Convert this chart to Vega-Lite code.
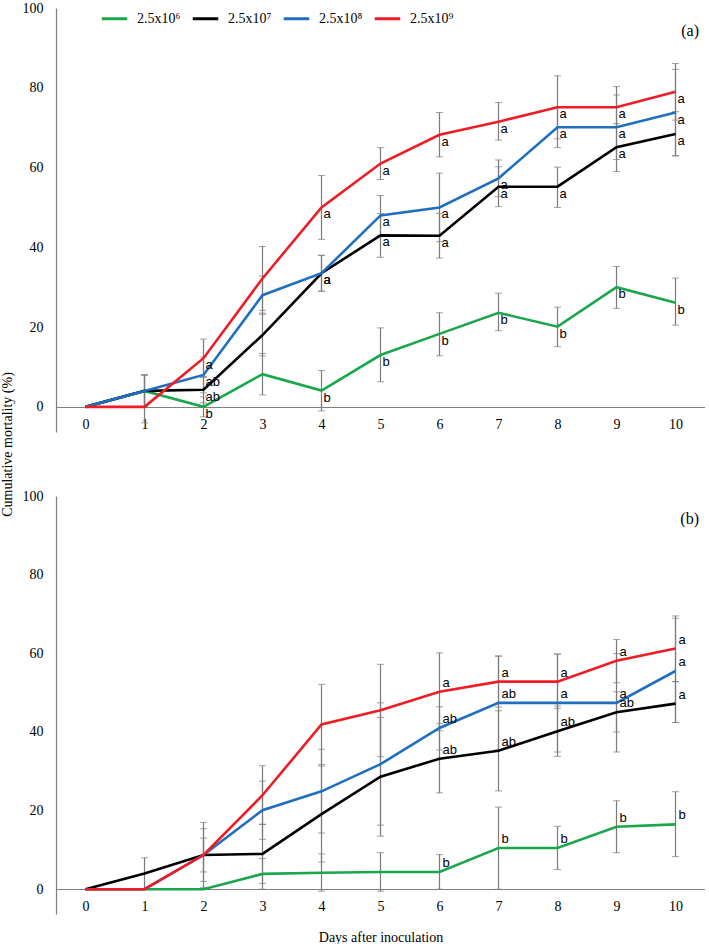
{
  "$schema": "https://vega.github.io/schema/vega-lite/v6.json",
  "autosize": {"type": "pad"},
  "padding": {"left": 0, "top": 1, "right": 0, "bottom": 0},
  "background": "white",
  "spacing": 64,
  "bounds": "flush",
  "config": {
    "view": {"stroke": null},
    "axis": {"grid": false, "ticks": false, "domainColor": "#808080", "domainWidth": 1.2, "labelFont": "Liberation Serif", "labelFontSize": 14, "labelColor": "#000", "titleFont": "Liberation Serif", "titleFontSize": 14, "titleFontWeight": "normal", "titleColor": "#000"},
    "title": {"font": "Liberation Serif", "fontSize": 16, "fontWeight": "normal", "color": "#000", "anchor": "end", "frame": "group", "orient": "top", "offset": -38, "dx": -6}
  },
  "datasets": {
    "mort": [
      {"panel": "a", "day": 0, "dose": "2.5x10⁶", "v": 0, "lo": null, "hi": null, "letter": ""},
      {"panel": "a", "day": 0, "dose": "2.5x10⁷", "v": 0, "lo": null, "hi": null, "letter": ""},
      {"panel": "a", "day": 0, "dose": "2.5x10⁸", "v": 0, "lo": null, "hi": null, "letter": ""},
      {"panel": "a", "day": 0, "dose": "2.5x10⁹", "v": 0, "lo": null, "hi": null, "letter": ""},
      {"panel": "a", "day": 1, "dose": "2.5x10⁶", "v": 4, "lo": 0, "hi": 8, "letter": ""},
      {"panel": "a", "day": 1, "dose": "2.5x10⁷", "v": 4, "lo": 0, "hi": 8, "letter": ""},
      {"panel": "a", "day": 1, "dose": "2.5x10⁸", "v": 4, "lo": 0, "hi": 8, "letter": ""},
      {"panel": "a", "day": 1, "dose": "2.5x10⁹", "v": 0, "lo": -4, "hi": 4, "letter": ""},
      {"panel": "a", "day": 2, "dose": "2.5x10⁶", "v": 0, "lo": -2.5, "hi": 2.5, "letter": "b"},
      {"panel": "a", "day": 2, "dose": "2.5x10⁷", "v": 4.3, "lo": 1, "hi": 7.6, "letter": "ab"},
      {"panel": "a", "day": 2, "dose": "2.5x10⁸", "v": 8, "lo": 3.5, "hi": 12.5, "letter": "ab"},
      {"panel": "a", "day": 2, "dose": "2.5x10⁹", "v": 12.2, "lo": 7.4, "hi": 17, "letter": "a"},
      {"panel": "a", "day": 3, "dose": "2.5x10⁶", "v": 8.2, "lo": 3, "hi": 13.4, "letter": ""},
      {"panel": "a", "day": 3, "dose": "2.5x10⁷", "v": 18, "lo": 12.8, "hi": 23.5, "letter": ""},
      {"panel": "a", "day": 3, "dose": "2.5x10⁸", "v": 28, "lo": 23.2, "hi": 32.8, "letter": ""},
      {"panel": "a", "day": 3, "dose": "2.5x10⁹", "v": 32.2, "lo": 24.2, "hi": 40.2, "letter": ""},
      {"panel": "a", "day": 4, "dose": "2.5x10⁶", "v": 4.1, "lo": -1, "hi": 9.1, "letter": "b"},
      {"panel": "a", "day": 4, "dose": "2.5x10⁷", "v": 33.5, "lo": 29, "hi": 38, "letter": "a"},
      {"panel": "a", "day": 4, "dose": "2.5x10⁸", "v": 33.5, "lo": 29, "hi": 38, "letter": "a"},
      {"panel": "a", "day": 4, "dose": "2.5x10⁹", "v": 50, "lo": 42, "hi": 58, "letter": "a"},
      {"panel": "a", "day": 5, "dose": "2.5x10⁶", "v": 13, "lo": 6.3, "hi": 19.8, "letter": "b"},
      {"panel": "a", "day": 5, "dose": "2.5x10⁷", "v": 43, "lo": 37.5, "hi": 48.5, "letter": "a"},
      {"panel": "a", "day": 5, "dose": "2.5x10⁸", "v": 48, "lo": 43, "hi": 53, "letter": "a"},
      {"panel": "a", "day": 5, "dose": "2.5x10⁹", "v": 61, "lo": 57, "hi": 65, "letter": "a"},
      {"panel": "a", "day": 6, "dose": "2.5x10⁶", "v": 18.3, "lo": 12.8, "hi": 23.6, "letter": "b"},
      {"panel": "a", "day": 6, "dose": "2.5x10⁷", "v": 42.9, "lo": 37.3, "hi": 48.5, "letter": "a"},
      {"panel": "a", "day": 6, "dose": "2.5x10⁸", "v": 50, "lo": 41.4, "hi": 58.6, "letter": "a"},
      {"panel": "a", "day": 6, "dose": "2.5x10⁹", "v": 68.2, "lo": 62.7, "hi": 73.8, "letter": "a"},
      {"panel": "a", "day": 7, "dose": "2.5x10⁶", "v": 23.6, "lo": 19.1, "hi": 28.5, "letter": "b"},
      {"panel": "a", "day": 7, "dose": "2.5x10⁷", "v": 55.2, "lo": 50.2, "hi": 60.2, "letter": "a"},
      {"panel": "a", "day": 7, "dose": "2.5x10⁸", "v": 57.3, "lo": 52.7, "hi": 61.9, "letter": "a"},
      {"panel": "a", "day": 7, "dose": "2.5x10⁹", "v": 71.5, "lo": 66.9, "hi": 76.3, "letter": "a"},
      {"panel": "a", "day": 8, "dose": "2.5x10⁶", "v": 20.1, "lo": 15.1, "hi": 25, "letter": "b"},
      {"panel": "a", "day": 8, "dose": "2.5x10⁷", "v": 55.2, "lo": 50, "hi": 60.1, "letter": "a"},
      {"panel": "a", "day": 8, "dose": "2.5x10⁸", "v": 70.1, "lo": 65, "hi": 75.2, "letter": "a"},
      {"panel": "a", "day": 8, "dose": "2.5x10⁹", "v": 75.1, "lo": 67.2, "hi": 83, "letter": "a"},
      {"panel": "a", "day": 9, "dose": "2.5x10⁶", "v": 30, "lo": 24.7, "hi": 35.2, "letter": "b"},
      {"panel": "a", "day": 9, "dose": "2.5x10⁷", "v": 65.1, "lo": 59, "hi": 71, "letter": "a"},
      {"panel": "a", "day": 9, "dose": "2.5x10⁸", "v": 70.1, "lo": 62, "hi": 78.2, "letter": "a"},
      {"panel": "a", "day": 9, "dose": "2.5x10⁹", "v": 75.1, "lo": 70.2, "hi": 80.3, "letter": "a"},
      {"panel": "a", "day": 10, "dose": "2.5x10⁶", "v": 26.1, "lo": 20.5, "hi": 32.3, "letter": "b"},
      {"panel": "a", "day": 10, "dose": "2.5x10⁷", "v": 68.4, "lo": 62.9, "hi": 74, "letter": "a"},
      {"panel": "a", "day": 10, "dose": "2.5x10⁸", "v": 73.8, "lo": 63, "hi": 84.6, "letter": "a"},
      {"panel": "a", "day": 10, "dose": "2.5x10⁹", "v": 79, "lo": 71.9, "hi": 86.1, "letter": "a"},
      {"panel": "b", "day": 0, "dose": "2.5x10⁶", "v": 0, "lo": null, "hi": null, "letter": ""},
      {"panel": "b", "day": 0, "dose": "2.5x10⁷", "v": 0, "lo": null, "hi": null, "letter": ""},
      {"panel": "b", "day": 0, "dose": "2.5x10⁸", "v": 0, "lo": null, "hi": null, "letter": ""},
      {"panel": "b", "day": 0, "dose": "2.5x10⁹", "v": 0, "lo": null, "hi": null, "letter": ""},
      {"panel": "b", "day": 1, "dose": "2.5x10⁶", "v": 0, "lo": null, "hi": null, "letter": ""},
      {"panel": "b", "day": 1, "dose": "2.5x10⁷", "v": 4, "lo": 0, "hi": 8, "letter": ""},
      {"panel": "b", "day": 1, "dose": "2.5x10⁸", "v": 0, "lo": null, "hi": null, "letter": ""},
      {"panel": "b", "day": 1, "dose": "2.5x10⁹", "v": 0, "lo": null, "hi": null, "letter": ""},
      {"panel": "b", "day": 2, "dose": "2.5x10⁶", "v": 0, "lo": null, "hi": null, "letter": ""},
      {"panel": "b", "day": 2, "dose": "2.5x10⁷", "v": 8.7, "lo": 2, "hi": 15.4, "letter": ""},
      {"panel": "b", "day": 2, "dose": "2.5x10⁸", "v": 8.7, "lo": 4.4, "hi": 13, "letter": ""},
      {"panel": "b", "day": 2, "dose": "2.5x10⁹", "v": 8.7, "lo": 0.4, "hi": 17, "letter": ""},
      {"panel": "b", "day": 3, "dose": "2.5x10⁶", "v": 3.9, "lo": 0, "hi": 7.8, "letter": ""},
      {"panel": "b", "day": 3, "dose": "2.5x10⁷", "v": 9, "lo": 1.5, "hi": 16.5, "letter": ""},
      {"panel": "b", "day": 3, "dose": "2.5x10⁸", "v": 20.1, "lo": 12.7, "hi": 27.5, "letter": ""},
      {"panel": "b", "day": 3, "dose": "2.5x10⁹", "v": 23.9, "lo": 16.5, "hi": 31.4, "letter": ""},
      {"panel": "b", "day": 4, "dose": "2.5x10⁶", "v": 4.2, "lo": -0.5, "hi": 9, "letter": ""},
      {"panel": "b", "day": 4, "dose": "2.5x10⁷", "v": 19.1, "lo": 6.9, "hi": 31.3, "letter": ""},
      {"panel": "b", "day": 4, "dose": "2.5x10⁸", "v": 24.9, "lo": 14.3, "hi": 35.6, "letter": ""},
      {"panel": "b", "day": 4, "dose": "2.5x10⁹", "v": 41.9, "lo": 31.7, "hi": 52.1, "letter": ""},
      {"panel": "b", "day": 5, "dose": "2.5x10⁶", "v": 4.4, "lo": -0.5, "hi": 9.3, "letter": ""},
      {"panel": "b", "day": 5, "dose": "2.5x10⁷", "v": 28.6, "lo": 13.5, "hi": 43.7, "letter": ""},
      {"panel": "b", "day": 5, "dose": "2.5x10⁸", "v": 31.8, "lo": 16.3, "hi": 47.4, "letter": ""},
      {"panel": "b", "day": 5, "dose": "2.5x10⁹", "v": 45.5, "lo": 33.7, "hi": 57.2, "letter": ""},
      {"panel": "b", "day": 6, "dose": "2.5x10⁶", "v": 4.4, "lo": 0, "hi": 8.8, "letter": "b"},
      {"panel": "b", "day": 6, "dose": "2.5x10⁷", "v": 33.2, "lo": 24.5, "hi": 42.2, "letter": "ab"},
      {"panel": "b", "day": 6, "dose": "2.5x10⁸", "v": 41, "lo": 35.4, "hi": 46.4, "letter": "ab"},
      {"panel": "b", "day": 6, "dose": "2.5x10⁹", "v": 50.2, "lo": 40.3, "hi": 60.1, "letter": "a"},
      {"panel": "b", "day": 7, "dose": "2.5x10⁶", "v": 10.5, "lo": 0, "hi": 20.9, "letter": "b"},
      {"panel": "b", "day": 7, "dose": "2.5x10⁷", "v": 35.2, "lo": 25, "hi": 45.4, "letter": "ab"},
      {"panel": "b", "day": 7, "dose": "2.5x10⁸", "v": 47.4, "lo": 35.5, "hi": 59.3, "letter": "ab"},
      {"panel": "b", "day": 7, "dose": "2.5x10⁹", "v": 52.8, "lo": 46.3, "hi": 59.3, "letter": "a"},
      {"panel": "b", "day": 8, "dose": "2.5x10⁶", "v": 10.5, "lo": 5, "hi": 16, "letter": "b"},
      {"panel": "b", "day": 8, "dose": "2.5x10⁷", "v": 40.2, "lo": 33.8, "hi": 46.6, "letter": "ab"},
      {"panel": "b", "day": 8, "dose": "2.5x10⁸", "v": 47.4, "lo": 34.9, "hi": 59.8, "letter": "a"},
      {"panel": "b", "day": 8, "dose": "2.5x10⁹", "v": 52.8, "lo": 46, "hi": 59.8, "letter": "a"},
      {"panel": "b", "day": 9, "dose": "2.5x10⁶", "v": 15.9, "lo": 9.3, "hi": 22.5, "letter": "b"},
      {"panel": "b", "day": 9, "dose": "2.5x10⁷", "v": 45, "lo": 40, "hi": 50.2, "letter": "ab"},
      {"panel": "b", "day": 9, "dose": "2.5x10⁸", "v": 47.4, "lo": 34.9, "hi": 59.9, "letter": "a"},
      {"panel": "b", "day": 9, "dose": "2.5x10⁹", "v": 58.1, "lo": 52.5, "hi": 63.5, "letter": "a"},
      {"panel": "b", "day": 10, "dose": "2.5x10⁶", "v": 16.5, "lo": 8.3, "hi": 24.8, "letter": "b"},
      {"panel": "b", "day": 10, "dose": "2.5x10⁷", "v": 47.2, "lo": 42.4, "hi": 52.8, "letter": "a"},
      {"panel": "b", "day": 10, "dose": "2.5x10⁸", "v": 55.5, "lo": 42.4, "hi": 68.9, "letter": "a"},
      {"panel": "b", "day": 10, "dose": "2.5x10⁹", "v": 61.2, "lo": 52.8, "hi": 69.5, "letter": "a"}
    ]
  },
  "vconcat": [
    {
      "width": 649,
      "height": 424,
      "title": {"text": "(a)"},
      "encoding": {
        "x": {"field": "day", "type": "quantitative", "scale": {"domain": [-0.5, 10.5], "nice": false, "zero": false},
          "axis": {"values": [0,1,2,3,4,5,6,7,8,9,10], "offset": -25, "labelPadding": 10, "title": null, "format": "d"}},
        "y": {"field": "v", "type": "quantitative", "scale": {"domain": [-6.3, 100], "nice": false, "zero": false},
          "axis": {"values": [0,20,40,60,80,100], "labelPadding": 13, "title": "Cumulative mortality (%)", "titleX": -49, "titleY": 436, "titleBaseline": "middle", "titleFontSize": 14}}
      },
      "layer": [
        {
          "data": {"name": "mort"},
          "transform": [{"filter": "datum.panel == 'a' && datum.lo != null"}],
          "mark": {"type": "errorbar", "ticks": {"size": 7, "color": "#7a7a7a", "strokeWidth": 1.2}, "rule": {"color": "#7a7a7a", "strokeWidth": 1.2}},
          "encoding": {"y": {"field": "lo", "type": "quantitative"}, "y2": {"field": "hi"}}
        },
        {
          "data": {"name": "mort"},
          "transform": [{"filter": "datum.panel == 'a'"}],
          "mark": {"type": "line", "strokeWidth": 2.6},
          "encoding": {
            "color": {"field": "dose", "type": "nominal",
              "scale": {"domain": ["2.5x10⁶", "2.5x10⁷", "2.5x10⁸", "2.5x10⁹"], "range": ["#1aa64a", "#000000", "#1f6fc0", "#ee1c24"]},
              "legend": {"orient": "none", "legendX": 44, "legendY": -4, "direction": "horizontal", "title": null, "symbolType": "stroke", "symbolSize": 650, "symbolStrokeWidth": 3, "labelFont": "Liberation Serif", "labelFontSize": 14, "labelColor": "#000", "labelOffset": 8, "columnPadding": 5, "padding": 0}}
          }
        },
        {
          "data": {"name": "mort"},
          "transform": [{"filter": "datum.panel == 'a' && datum.letter != ''"}],
          "mark": {"type": "text", "align": "left", "baseline": "top", "dx": 2, "dy": 1, "font": "Liberation Sans", "fontSize": 13, "color": "#000"},
          "encoding": {"text": {"field": "letter"}}
        }
      ]
    },
    {
      "width": 649,
      "height": 418,
      "title": {"text": "(b)"},
      "encoding": {
        "x": {"field": "day", "type": "quantitative", "scale": {"domain": [-0.5, 10.5], "nice": false, "zero": false},
          "axis": {"values": [0,1,2,3,4,5,6,7,8,9,10], "offset": -25, "labelPadding": 10, "title": "Days after inoculation", "titlePadding": 17, "format": "d"}},
        "y": {"field": "v", "type": "quantitative", "scale": {"domain": [-6.3, 100], "nice": false, "zero": false},
          "axis": {"values": [0,20,40,60,80,100], "labelPadding": 13, "title": null}}
      },
      "layer": [
        {
          "data": {"name": "mort"},
          "transform": [{"filter": "datum.panel == 'b' && datum.lo != null"}],
          "mark": {"type": "errorbar", "ticks": {"size": 7, "color": "#7a7a7a", "strokeWidth": 1.2}, "rule": {"color": "#7a7a7a", "strokeWidth": 1.2}},
          "encoding": {"y": {"field": "lo", "type": "quantitative"}, "y2": {"field": "hi"}}
        },
        {
          "data": {"name": "mort"},
          "transform": [{"filter": "datum.panel == 'b'"}],
          "mark": {"type": "line", "strokeWidth": 2.6},
          "encoding": {
            "color": {"field": "dose", "type": "nominal",
              "scale": {"domain": ["2.5x10⁶", "2.5x10⁷", "2.5x10⁸", "2.5x10⁹"], "range": ["#1aa64a", "#000000", "#1f6fc0", "#ee1c24"]},
              "legend": null}
          }
        },
        {
          "data": {"name": "mort"},
          "transform": [{"filter": "datum.panel == 'b' && datum.letter != ''"}],
          "mark": {"type": "text", "align": "left", "baseline": "bottom", "dx": 3, "dy": -2, "font": "Liberation Sans", "fontSize": 13, "color": "#000"},
          "encoding": {"text": {"field": "letter"}}
        }
      ]
    }
  ],
  "resolve": {"scale": {"color": "shared"}}
}
